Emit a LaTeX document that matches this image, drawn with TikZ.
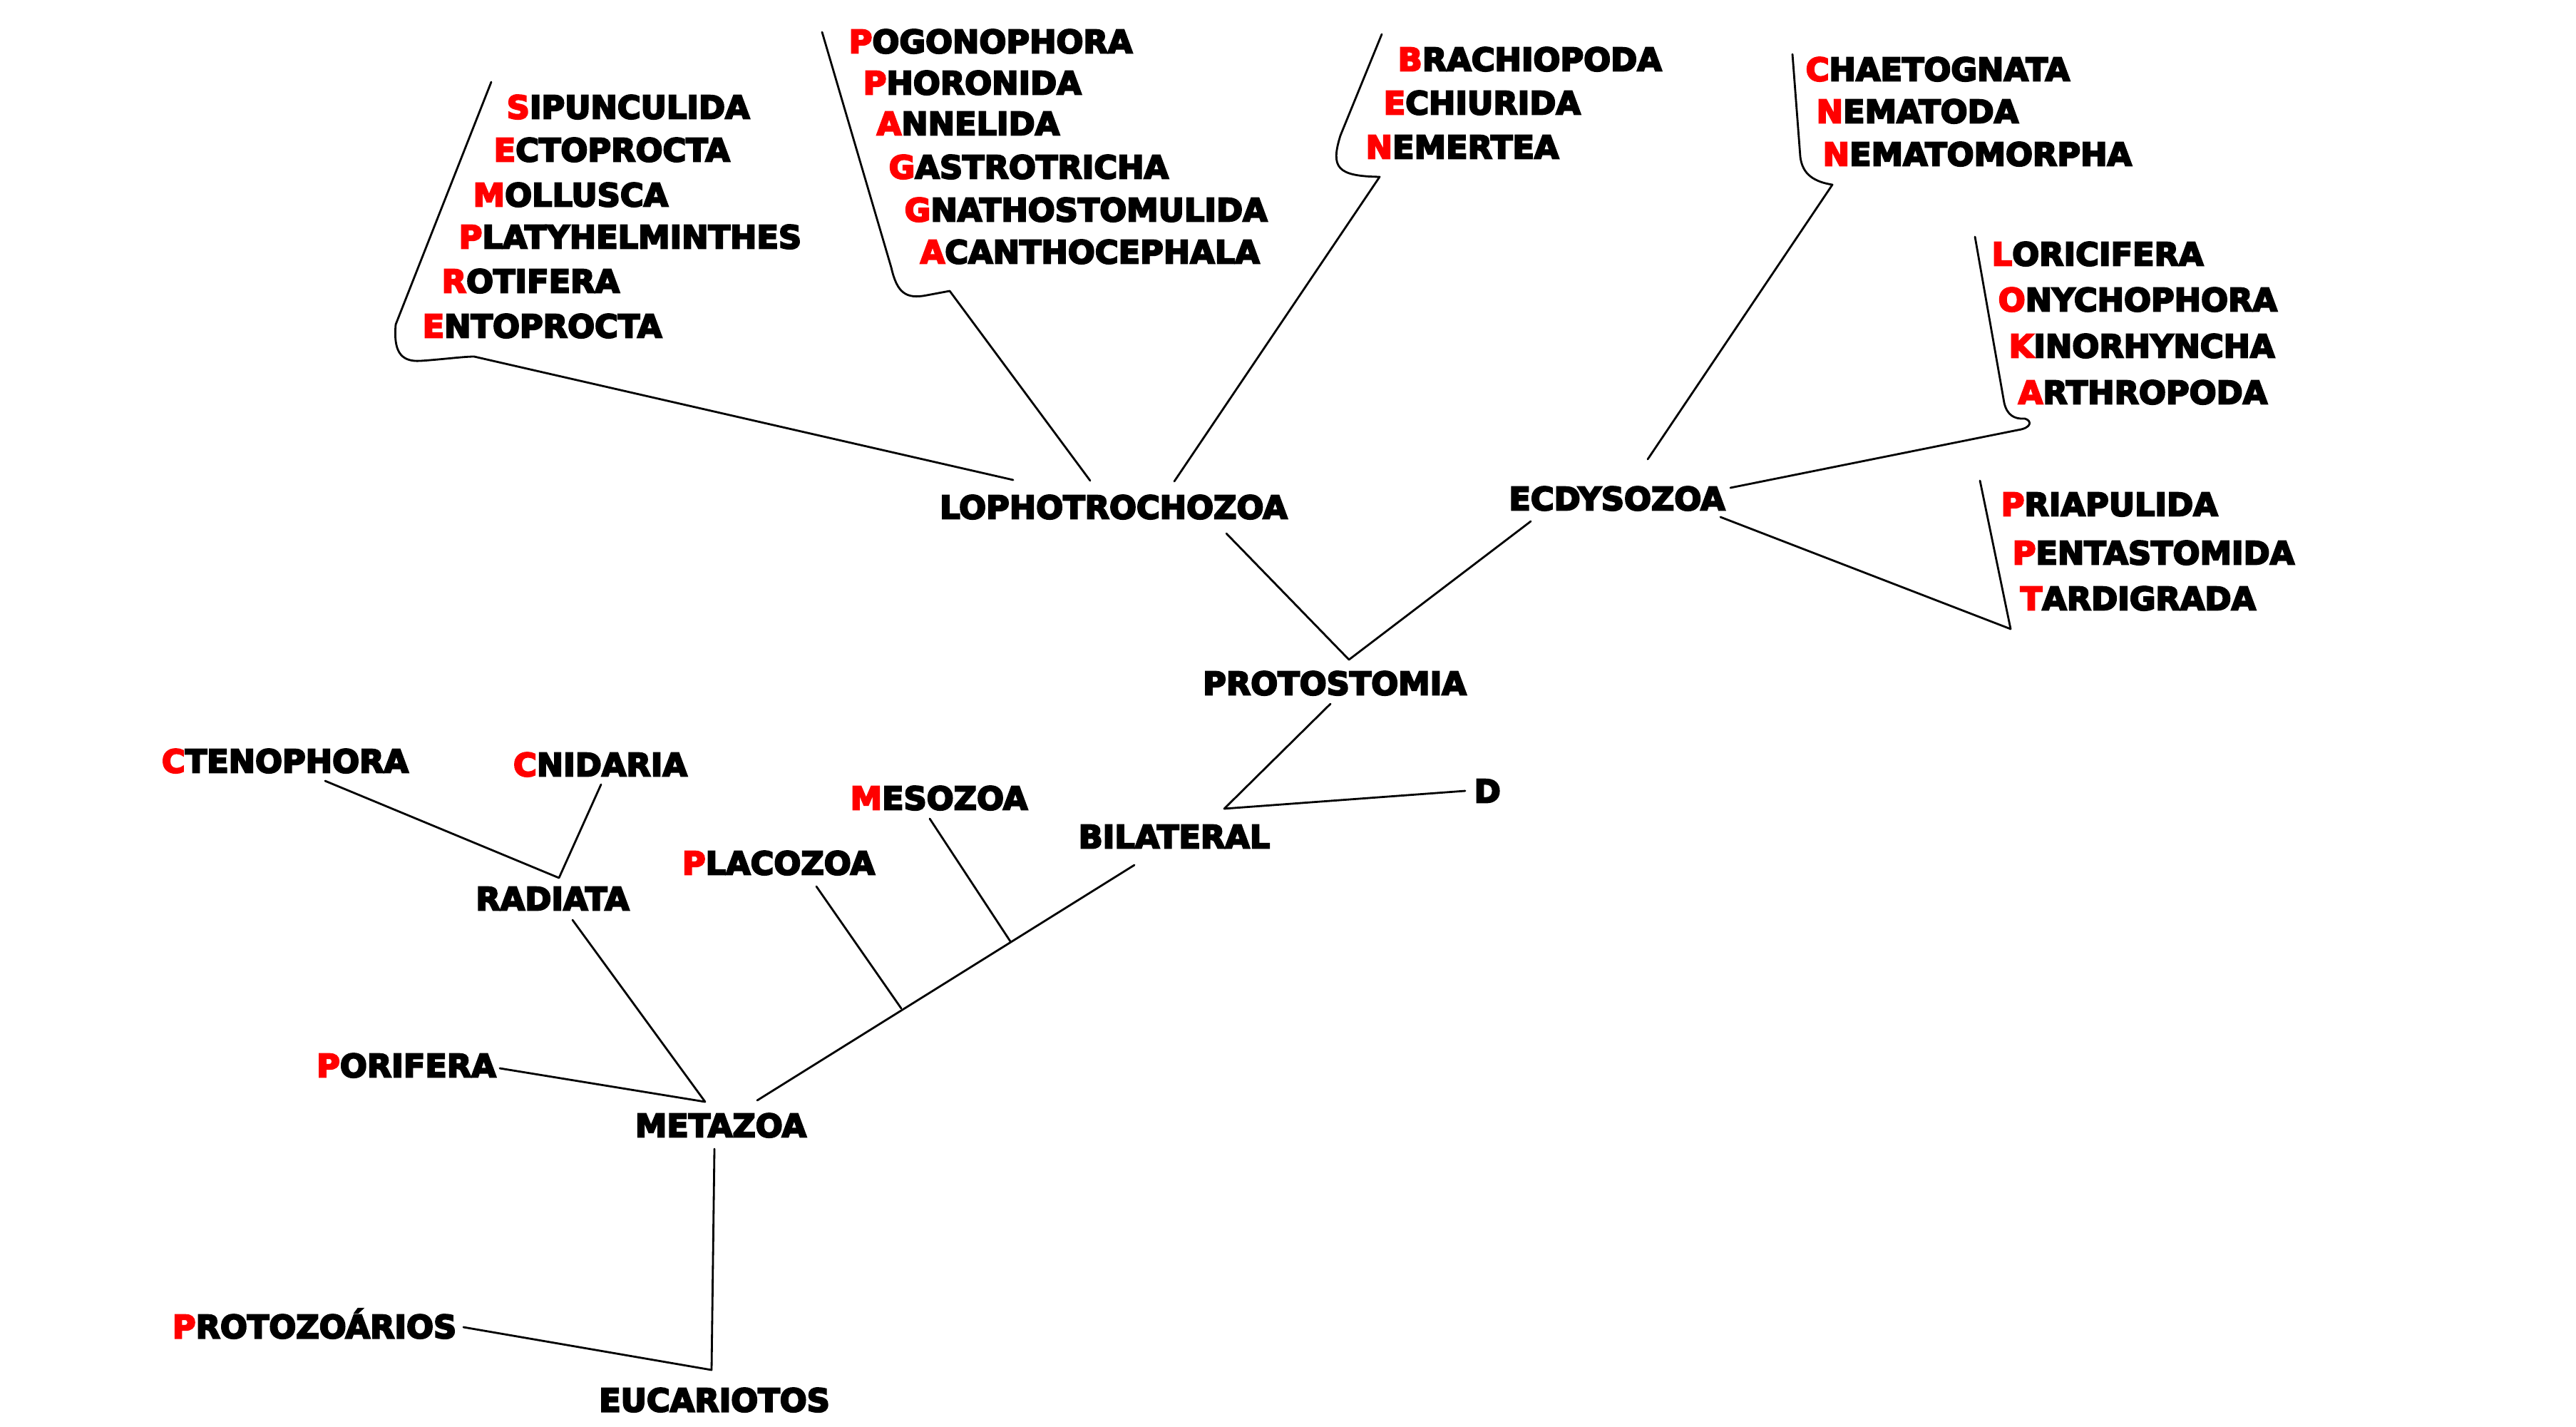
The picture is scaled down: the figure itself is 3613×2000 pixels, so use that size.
\documentclass[tikz,border=0pt]{standalone}
\usepackage{fontspec}
\setmainfont{DejaVu Sans}[BoldFeatures={FakeBold=5}]
\usepackage{xcolor}
\definecolor{tx-red}{RGB}{255,0,0}
\usepackage{tikz}
\usetikzlibrary{positioning}
\newcommand{\rc}[1]{\textcolor{tx-red}{#1}}
\tikzset{
  taxon/.style={font=\fontsize{12.7}{14}\selectfont\bfseries, inner sep=0pt, text height=9.3pt, text depth=0pt},
  leaf/.style={taxon, anchor=west},
  branch/.style={line width=0.8pt, line cap=round, line join=round},
}

\begin{document}
\begin{tikzpicture}[x=0.01cm,y=-0.01cm]
    \useasboundingbox (0,0) rectangle (3613,2000);

    \node[leaf] (sip) at (710,150) {\rc{S}IPUNCULIDA};
    \node[leaf] (ect) at (692,210) {\rc{E}CTOPROCTA};
    \node[leaf] (mol) at (663,273) {\rc{M}OLLUSCA};
    \node[leaf] (pla) at (643,332) {\rc{P}LATYHELMINTHES};
    \node[leaf] (rot) at (619,394) {\rc{R}OTIFERA};
    \node[leaf] (ent) at (592,457) {\rc{E}NTOPROCTA};

    \node[leaf] (pog) at (1190,58) {\rc{P}OGONOPHORA};
    \node[leaf] (pho) at (1210,116) {\rc{P}HORONIDA};
    \node[leaf] (ann) at (1229,173) {\rc{A}NNELIDA};
    \node[leaf] (gas) at (1246,234) {\rc{G}ASTROTRICHA};
    \node[leaf] (gna) at (1268,294) {\rc{G}NATHOSTOMULIDA};
    \node[leaf] (aca) at (1290,353) {\rc{A}CANTHOCEPHALA};

    \node[leaf] (bra) at (1960,83) {\rc{B}RACHIOPODA};
    \node[leaf] (ech) at (1940,144) {\rc{E}CHIURIDA};
    \node[leaf] (nem) at (1915,206) {\rc{N}EMERTEA};

    \node[leaf] (cha) at (2532,97) {\rc{C}HAETOGNATA};
    \node[leaf] (nmd) at (2547,156) {\rc{N}EMATODA};
    \node[leaf] (nmm) at (2556,216) {\rc{N}EMATOMORPHA};

    \node[leaf] (lor) at (2793,356) {\rc{L}ORICIFERA};
    \node[leaf] (ony) at (2802,420) {\rc{O}NYCHOPHORA};
    \node[leaf] (kin) at (2817,485) {\rc{K}INORHYNCHA};
    \node[leaf] (art) at (2830,550) {\rc{A}RTHROPODA};

    \node[leaf] (pri) at (2806,707) {\rc{P}RIAPULIDA};
    \node[leaf] (pen) at (2822,775) {\rc{P}ENTASTOMIDA};
    \node[leaf] (tar) at (2833,839) {\rc{T}ARDIGRADA};

    \node[taxon] (lopho) at (1562,711) {LOPHOTROCHOZOA};
    \node[taxon] (ecdy) at (2268,699) {ECDYSOZOA};
    \node[taxon] (proto) at (1872,958) {PROTOSTOMIA};
    \node[leaf] (deut) at (2067,1109) {D};
    \node[taxon] (bilat) at (1647,1173) {BILATERAL};
    \node[taxon] (meso) at (1317,1119) {\rc{M}ESOZOA};
    \node[taxon] (placo) at (1092,1210) {\rc{P}LACOZOA};
    \node[taxon] (cteno) at (400,1067) {\rc{C}TENOPHORA};
    \node[taxon] (cnid) at (842,1072) {\rc{C}NIDARIA};
    \node[taxon] (radi) at (775,1260) {RADIATA};
    \node[taxon] (pori) at (570,1494) {\rc{P}ORIFERA};
    \node[taxon] (meta) at (1011,1578) {METAZOA};
    \node[taxon] (protz) at (441,1860) {\rc{P}ROTOZOÁRIOS};
    \node[taxon] (euca) at (1002,1963) {EUCARIOTOS};

    \coordinate (lo1) at (1421,673);
    \coordinate (lo2) at (1529,674);
    \coordinate (lo3) at (1647,675);
    \coordinate (lo4) at (1720,748);
    \coordinate (ec1) at (2311,644);
    \coordinate (ec2) at (2427,684);
    \coordinate (ec3) at (2413,725);
    \coordinate (ec4) at (2147,731);
    \coordinate (pr1) at (1892,925);
    \coordinate (pr2) at (1866,987);
    \coordinate (bi1) at (1717,1134);
    \coordinate (bi2) at (1591,1213);
    \coordinate (de1) at (2055,1109);
    \coordinate (me1) at (1304,1148);
    \coordinate (me2) at (1417,1320);
    \coordinate (pl1) at (1145,1243);
    \coordinate (pl2) at (1264,1414);
    \coordinate (ra1) at (803,1290);
    \coordinate (ra2) at (784,1231);
    \coordinate (ct1) at (456,1095);
    \coordinate (cn1) at (843,1100);
    \coordinate (po1) at (701,1498);
    \coordinate (mt1) at (989,1545);
    \coordinate (mt2) at (1062,1543);
    \coordinate (mt3) at (1002,1611);
    \coordinate (eu1) at (998,1921);
    \coordinate (pz1) at (650,1861);

    \draw[branch] (689,115) -- (555,455) .. controls (552,490) and (560,508) .. (590,506)
        .. controls (620,504) and (650,500) .. (665,500) -- (lo1);
    \draw[branch] (1153,45) -- (1250,375) .. controls (1258,410) and (1270,420) .. (1300,414)
        -- (1332,408) -- (lo2);
    \draw[branch] (1938,48) -- (1880,190) .. controls (1866,235) and (1875,247) .. (1935,248) -- (lo3);
    \draw[branch] (2514,76) -- (2525,220) .. controls (2528,245) and (2545,255) .. (2570,259) -- (ec1);
    \draw[branch] (2770,332) -- (2811,565) .. controls (2815,582) and (2825,588) .. (2840,587)
        .. controls (2850,590) and (2850,600) .. (2830,603) -- (ec2);
    \draw[branch] (2777,674) -- (2820,882) -- (ec3);

    \draw[branch] (lo4) -- (pr1) -- (ec4);
    \draw[branch] (pr2) -- (bi1) -- (de1);
    \draw[branch] (bi2) -- (mt2);
    \draw[branch] (me1) -- (me2);
    \draw[branch] (pl1) -- (pl2);
    \draw[branch] (ct1) -- (ra2) -- (cn1);
    \draw[branch] (ra1) -- (mt1) -- (po1);
    \draw[branch] (mt3) -- (eu1) -- (pz1);
\end{tikzpicture}
\end{document}
